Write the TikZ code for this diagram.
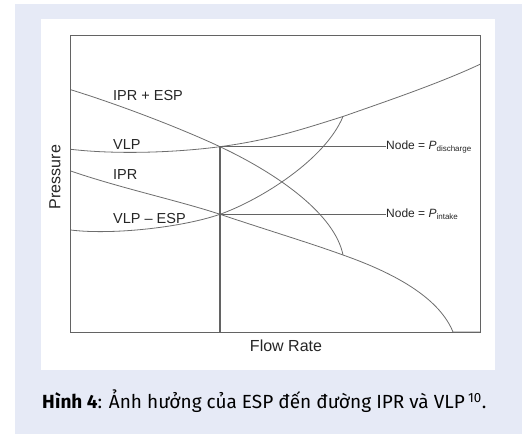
\documentclass[tikz,border=0pt]{standalone}
\usepackage{fontspec}
\setmainfont{Liberation Sans}
\newfontfamily\capfont{Fira Sans}
\usetikzlibrary{positioning}
\definecolor{pagebg}{RGB}{230,234,246}
\definecolor{curvegray}{RGB}{110,110,110}

\tikzset{
  curve/.style={draw=curvegray, line width=0.8pt},
  frame/.style={draw=curvegray!90!black, line width=1pt},
  curvelabel/.style={anchor=west, inner sep=0pt, font=\fontsize{14.5}{16}\selectfont, text=black!85},
  nodelabel/.style={anchor=west, inner sep=0pt, font=\fontsize{12}{14}\selectfont, text=black!85},
  axislabel/.style={inner sep=0pt, font=\fontsize{16}{18}\selectfont, text=black!85}
}

\begin{document}
\begin{tikzpicture}[x=1pt, y=-1pt]
  \useasboundingbox (0,0) rectangle (522,434);
  \fill[pagebg] (15,4) rectangle (522,434);
  \fill[white] (41,19) rectangle (495,370);

  % key points
  \coordinate (dis) at (220,146.7);
  \coordinate (int) at (220,214.3);
  \coordinate (top) at (343,116.5);
  \coordinate (bot) at (343,255);
  \coordinate (foot) at (220,332);

  % frame
  \draw[frame] (70.7,35) rectangle (480,332);

  % curves
  \draw[curve] (70.7,89.7) .. controls (120,105) and (180,128) .. (dis)
               .. controls (280,175) and (335,215) .. (bot);
  \draw[curve] (70.7,149.3) .. controls (120,155) and (180,152) .. (dis)
               .. controls (270,140) and (300,130) .. (top)
               .. controls (390,100) and (440,83) .. (480,64.3);
  \draw[curve] (70.7,171) .. controls (120,188) and (180,201) .. (int)
               .. controls (270,231) and (310,243) .. (bot)
               .. controls (400,275) and (440,300) .. (453,332) -- (480,332);
  \draw[curve] (70.7,230) .. controls (110,235) and (180,228) .. (int)
               .. controls (260,200) and (325,160) .. (top);

  % curve labels
  \node[curvelabel] (ipresp) at (113,95.7) {IPR + ESP};
  \node[curvelabel] (vlp) at (113,144.3) {VLP};
  \node[curvelabel] (ipr) at (113,174.3) {IPR};
  \node[curvelabel] (vlpesp) at (113,219) {VLP -- ESP};

  % operating points
  \node[nodelabel] (ndis) at (386,146.7) {Node = \textit{P}\textsubscript{discharge}};
  \node[nodelabel] (nint) at (386,214.3) {Node = \textit{P}\textsubscript{intake}};
  \draw[frame, line width=1.2pt] (foot) -- (dis) -- (ndis.west);
  \draw[frame, line width=1.2pt] (int) -- (nint.west);

  % axes
  \node[axislabel, rotate=90] (pres) at (55,177) {Pressure};
  \node[axislabel] (flow) at (286,346) {Flow Rate};

  % caption
  \node[anchor=west, inner sep=0pt, font=\capfont\fontsize{19}{21}\selectfont] (cap) at (42,401)
    {\textbf{Hình 4}: Ảnh hưởng của ESP đến đường IPR và VLP\,\textsuperscript{10}.};
\end{tikzpicture}
\end{document}
